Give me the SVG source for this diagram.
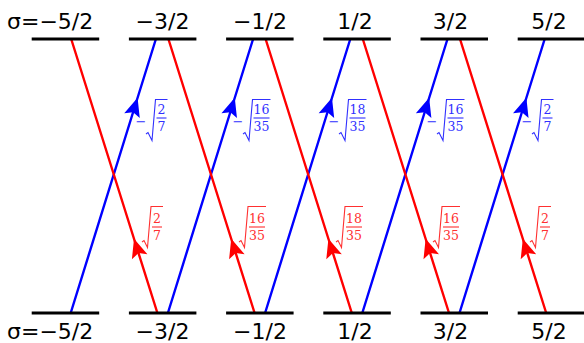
<svg xmlns="http://www.w3.org/2000/svg" width="584" height="343" viewBox="0 0 584 343">
<style>
.lvl{stroke:#000;stroke-width:3;fill:none}
.lt{font-family:"DejaVu Sans",sans-serif;font-size:22px;fill:#000}
.b{stroke:#0000ff;stroke-width:2.4;fill:none;marker-mid:url(#ab)}
.r{stroke:#ff0000;stroke-width:2.4;fill:none;marker-mid:url(#ar)}
.m{font-family:"DejaVu Serif",serif;font-size:12.5px;text-anchor:middle}
.mi{font-family:"DejaVu Sans",sans-serif;font-size:13px;text-anchor:middle}
.mb{fill:#3030ff}.mr{fill:#ff3030}
.rb{stroke:#3030ff;stroke-width:1.1;fill:none}
.rr{stroke:#ff3030;stroke-width:1.1;fill:none}
</style>
<defs>
<marker id="ab" markerUnits="userSpaceOnUse" markerWidth="30" markerHeight="30" viewBox="-20 -10 24 20" refX="0" refY="0" orient="auto" overflow="visible">
<path d="M1,0 L-14,-6.5 L-11,0 L-14,6.5 Z" fill="#0000ff"/>
</marker>
<marker id="ar" markerUnits="userSpaceOnUse" markerWidth="30" markerHeight="30" viewBox="-20 -10 24 20" refX="0" refY="0" orient="auto" overflow="visible">
<path d="M1,0 L-14,-6.5 L-11,0 L-14,6.5 Z" fill="#ff0000"/>
</marker>
</defs>
<rect width="584" height="343" fill="#fff"/>
<g id="connectors">
<path class="b" d="M70.7,313 L137.2,99 L155.9,39"/>
<path class="b" d="M167.9,313 L234.4,99 L253.1,39"/>
<path class="b" d="M265.1,313 L331.6,99 L350.3,39"/>
<path class="b" d="M362.3,313 L428.8,99 L447.5,39"/>
<path class="b" d="M459.5,313 L526,99 L544.7,39"/>
<path class="r" d="M157.4,313 L134.4,240 L71.2,39"/>
<path class="r" d="M254.6,313 L231.6,240 L168.4,39"/>
<path class="r" d="M351.8,313 L328.8,240 L265.6,39"/>
<path class="r" d="M449,313 L426,240 L362.8,39"/>
<path class="r" d="M546.2,313 L523.2,240 L460,39"/>
</g>
<g id="labels-blue">
<g id="lb1"><text class="mi mb" x="141" y="126">−</text><path class="rb" d="M146,134 l2,-1.5 l4,8 l3.5,-41 h12"/><text class="m mb" x="161.5" y="114">2</text><path class="rb" d="M156.5,118 h10"/><text class="m mb" x="161.5" y="131">7</text></g>
<g id="lb2"><text class="mi mb" x="238" y="126">−</text><path class="rb" d="M243,134 l2,-1.5 l4,8 l3.5,-41 h18"/><text class="m mb" x="261.5" y="114">16</text><path class="rb" d="M253.5,118 h16"/><text class="m mb" x="261.5" y="131">35</text></g>
<g id="lb3"><text class="mi mb" x="334" y="126">−</text><path class="rb" d="M339,134 l2,-1.5 l4,8 l3.5,-41 h18"/><text class="m mb" x="357.5" y="114">18</text><path class="rb" d="M349.5,118 h16"/><text class="m mb" x="357.5" y="131">35</text></g>
<g id="lb4"><text class="mi mb" x="432" y="126">−</text><path class="rb" d="M437,134 l2,-1.5 l4,8 l3.5,-41 h18"/><text class="m mb" x="455.5" y="114">16</text><path class="rb" d="M447.5,118 h16"/><text class="m mb" x="455.5" y="131">35</text></g>
<g id="lb5"><text class="mi mb" x="527" y="126">−</text><path class="rb" d="M532,134 l2,-1.5 l4,8 l3.5,-41 h12"/><text class="m mb" x="547.5" y="114">2</text><path class="rb" d="M542.5,118 h10"/><text class="m mb" x="547.5" y="131">7</text></g>
</g>
<g id="labels-red">
<g id="lr1"><path class="rr" d="M142,242 l2,-1.5 l3.5,7 l3.5,-41 h12"/><text class="m mr" x="157" y="223">2</text><path class="rr" d="M152,227 h10"/><text class="m mr" x="157" y="240">7</text></g>
<g id="lr2"><path class="rr" d="M239,242 l2,-1.5 l3.5,7 l3.5,-41 h18"/><text class="m mr" x="257" y="223">16</text><path class="rr" d="M249,227 h16"/><text class="m mr" x="257" y="240">35</text></g>
<g id="lr3"><path class="rr" d="M336,242 l2,-1.5 l3.5,7 l3.5,-41 h18"/><text class="m mr" x="354" y="223">18</text><path class="rr" d="M346,227 h16"/><text class="m mr" x="354" y="240">35</text></g>
<g id="lr4"><path class="rr" d="M433,242 l2,-1.5 l3.5,7 l3.5,-41 h18"/><text class="m mr" x="451" y="223">16</text><path class="rr" d="M443,227 h16"/><text class="m mr" x="451" y="240">35</text></g>
<g id="lr5"><path class="rr" d="M530,242 l2,-1.5 l3.5,7 l3.5,-41 h12"/><text class="m mr" x="545" y="223">2</text><path class="rr" d="M540,227 h10"/><text class="m mr" x="545" y="240">7</text></g>
</g>
<g id="top-m52"><path class="lvl" d="M31.7,39 H99.2"/><text class="lt" x="7" y="29">σ=−5/2</text></g>
<g id="top-m32"><path class="lvl" d="M128.9,39 H196.4"/><text class="lt" x="162.5" y="29" text-anchor="middle">−3/2</text></g>
<g id="top-m12"><path class="lvl" d="M226.1,39 H293.6"/><text class="lt" x="260" y="29" text-anchor="middle">−1/2</text></g>
<g id="top-p12"><path class="lvl" d="M323.3,39 H390.8"/><text class="lt" x="355" y="29" text-anchor="middle">1/2</text></g>
<g id="top-p32"><path class="lvl" d="M420.5,39 H488"/><text class="lt" x="450.5" y="29" text-anchor="middle">3/2</text></g>
<g id="top-p52"><path class="lvl" d="M517.7,39 H586"/><text class="lt" x="549" y="29" text-anchor="middle">5/2</text></g>
<g id="bot-m52"><path class="lvl" d="M31.7,313 H99.2"/><text class="lt" x="7" y="339">σ=−5/2</text></g>
<g id="bot-m32"><path class="lvl" d="M128.9,313 H196.4"/><text class="lt" x="162.5" y="339" text-anchor="middle">−3/2</text></g>
<g id="bot-m12"><path class="lvl" d="M226.1,313 H293.6"/><text class="lt" x="260" y="339" text-anchor="middle">−1/2</text></g>
<g id="bot-p12"><path class="lvl" d="M323.3,313 H390.8"/><text class="lt" x="355" y="339" text-anchor="middle">1/2</text></g>
<g id="bot-p32"><path class="lvl" d="M420.5,313 H488"/><text class="lt" x="450.5" y="339" text-anchor="middle">3/2</text></g>
<g id="bot-p52"><path class="lvl" d="M517.7,313 H586"/><text class="lt" x="549" y="339" text-anchor="middle">5/2</text></g>
</svg>
